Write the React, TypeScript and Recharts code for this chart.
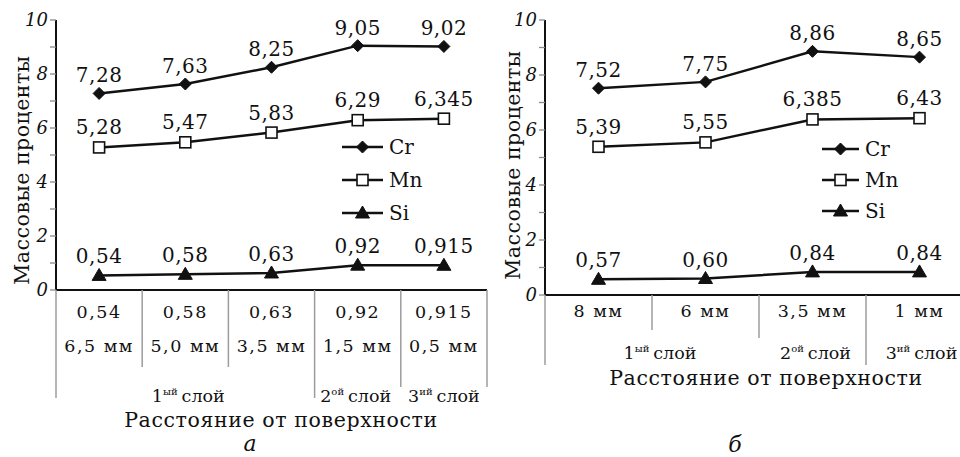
import React from 'react';
import { LineChart, Line, XAxis, YAxis, Legend, LabelList } from 'recharts';

const FONT = '"DejaVu Serif", "Liberation Serif", serif';
const INK = '#111111';
const SEP = '#9c9c9c';

// ---------- Panel а ----------
const distA = ['6,5 мм', '5,0 мм', '3,5 мм', '1,5 мм', '0,5 мм'];
const siRowA = ['0,54', '0,58', '0,63', '0,92', '0,915'];
const crA = [7.28, 7.63, 8.25, 9.05, 9.02];
const mnA = [5.28, 5.47, 5.83, 6.29, 6.345];
const siA = [0.54, 0.58, 0.63, 0.92, 0.915];
const layerNumA = ['1', '2', '3'];
const layerSupA = ['ый', 'ой', 'ий'];
const layerSpanA = [3, 1, 1];

// ---------- Panel б ----------
const distB = ['8 мм', '6 мм', '3,5 мм', '1 мм'];
const crB = [7.52, 7.75, 8.86, 8.65];
const mnB = [5.39, 5.55, 6.385, 6.43];
const siB = [0.57, 0.6, 0.84, 0.84];
const layerNumB = ['1', '2', '3'];
const layerSupB = ['ый', 'ой', 'ий'];
const layerSpanB = [2, 1, 1];

const yTicks = [0, 1, 2, 3, 4, 5, 6, 7, 8, 9, 10];
const seriesNames = ['Cr', 'Mn', 'Si'];
const yTitle = 'Массовые проценты';
const xTitle = 'Расстояние от поверхности';
const layerWord = 'слой';
const panelLetters = ['а', 'б'];

const fmt = (v: number) => {
  const s = String(v);
  const dec = s.includes('.') ? s.split('.')[1].length : 0;
  return v.toFixed(Math.max(2, dec)).replace('.', ',');
};

function Marker({ kind, cx, cy }: { kind: string; cx: number; cy: number }) {
  if (kind === 'Cr') {
    return <polygon points={`${cx},${cy - 6} ${cx + 6},${cy} ${cx},${cy + 6} ${cx - 6},${cy}`} fill={INK} stroke={INK} strokeWidth={1} />;
  }
  if (kind === 'Mn') {
    return <rect x={cx - 5.5} y={cy - 5.5} width={11} height={11} fill="#fff" stroke={INK} strokeWidth={1.6} />;
  }
  return <polygon points={`${cx},${cy - 7} ${cx + 7},${cy + 5} ${cx - 7},${cy + 5}`} fill={INK} stroke={INK} strokeWidth={1} />;
}

type PanelProps = {
  left: number;
  width: number;
  marginLeft: number;
  marginRight: number;
  yW: number;
  xH: number;
  dist: string[];
  valRow?: string[];
  cr: number[];
  mn: number[];
  si: number[];
  layerNum: string[];
  layerSup: string[];
  layerSpan: number[];
  layerDx: number[];
  sepLen: number[];
  rowOff: number[];
  layerOff: number;
  titleX: number;
  titleOff: number;
  letter: string;
  letterX: number;
  letterY: number;
  yTitleX: number;
  yTitleY: number;
  legendLeft: number;
  legendTop: number;
  legendRow: number;
  legendLine: number;
};

function Panel(p: PanelProps) {
  const H = 457;
  const data = p.dist.map((d, i) => ({
    name: d,
    row: p.valRow ? p.valRow[i] : undefined,
    Cr: p.cr[i],
    Mn: p.mn[i],
    Si: p.si[i],
  }));
  const n = data.length;
  const plotW = p.width - p.marginLeft - p.marginRight - p.yW;
  const bw = plotW / n;
  const starts: number[] = [];
  let acc = 0;
  p.layerSpan.forEach((s) => {
    starts.push(acc);
    acc += s;
  });

  const tick = (t: any) => {
    const { x, y, index } = t;
    const lx = x - bw / 2;
    const rows = p.valRow ? [p.valRow, p.dist] : [p.dist];
    const li = starts.indexOf(index);
    return (
      <g>
        <line x1={lx} x2={lx} y1={y} y2={y + p.sepLen[index]} stroke={SEP} strokeWidth={1.5} />
        {index === n - 1 && (
          <line x1={x + bw / 2} x2={x + bw / 2} y1={y} y2={y + p.sepLen[n]} stroke={SEP} strokeWidth={1.5} />
        )}
        {rows.map((r, ri) => (
          <text key={ri} x={x} y={y + p.rowOff[ri]} textAnchor="middle" fontFamily={FONT} fontSize={17.5} letterSpacing={1.5} fill={INK}>
            {r[index]}
          </text>
        ))}
        {li >= 0 && (
          <text x={lx + (p.layerSpan[li] * bw) / 2 + p.layerDx[li]} y={y + p.layerOff} textAnchor="middle" fontFamily={FONT} fontSize={17.5} fill={INK}>
            <tspan>{p.layerNum[li]}</tspan>
            <tspan fontSize={10} dy={-7}>{p.layerSup[li]}</tspan>
            <tspan dy={7} dx={4}>{layerWord}</tspan>
          </text>
        )}
        {index === 0 && (
          <g>
            <text x={p.titleX} y={y + p.titleOff} textAnchor="middle" fontFamily={FONT} fontSize={20.5} letterSpacing={0.6} fill={INK}>
              {xTitle}
            </text>
            <text x={p.letterX} y={p.letterY} textAnchor="middle" fontFamily={FONT} fontStyle="italic" fontSize={22} fill={INK}>
              {p.letter}
            </text>
          </g>
        )}
      </g>
    );
  };

  const labelFor = (key: string, off: number) => (lp: any) => {
    const { x, y, value } = lp;
    return (
      <text x={x} y={y - off} textAnchor="middle" fontFamily={FONT} fontSize={20} letterSpacing={0.5} fill={INK}>
        {fmt(Number(value))}
      </text>
    );
  };

  const dotFor = (key: string) => (dp: any) => <Marker key={`${key}-${dp.index}`} kind={key} cx={dp.cx} cy={dp.cy} />;

  const legendContent = (lp: any) => {
    const payload = lp.payload || [];
    return (
      <div style={{ fontFamily: FONT, fontSize: 20, color: INK }}>
        {payload.map((e: any) => {
          const k = String(e.dataKey);
          const w = p.legendLine;
          return (
            <div key={k} style={{ display: 'flex', alignItems: 'center', height: p.legendRow }}>
              <svg width={w} height={18} style={{ display: 'block' }}>
                <line x1={0} x2={w} y1={9} y2={9} stroke={INK} strokeWidth={2.5} />
                <Marker kind={k} cx={w / 2} cy={9} />
              </svg>
              <span style={{ marginLeft: 6, lineHeight: '20px' }}>{e.value}</span>
            </div>
          );
        })}
      </div>
    );
  };

  return (
    <div style={{ position: 'absolute', left: p.left, top: 0, width: p.width, height: H }}>
      <LineChart
        width={p.width}
        height={H}
        data={data}
        margin={{ top: 20, right: p.marginRight, left: p.marginLeft, bottom: 0 }}
      >
        <XAxis
          dataKey="name"
          scale="band"
          height={p.xH}
          interval={0}
          tickSize={0}
          tickMargin={0}
          tickLine={false}
          axisLine={{ stroke: INK, strokeWidth: 2 }}
          tick={tick}
        />
        <XAxis
          xAxisId="top"
          dataKey="name"
          scale="band"
          orientation="top"
          height={0}
          tick={false}
          tickLine={false}
          axisLine={{ stroke: INK, strokeWidth: 2 }}
        />
        <YAxis
          width={p.yW}
          domain={[0, 10]}
          ticks={yTicks}
          interval={0}
          tickSize={6}
          tickMargin={2}
          tickLine={{ stroke: '#8a8a8a', strokeWidth: 1.3 }}
          axisLine={{ stroke: INK, strokeWidth: 2 }}
          tickFormatter={(v: number) => (v % 2 === 0 ? String(v) : '')}
          tick={{ fontFamily: FONT, fontStyle: 'italic', fontSize: 18, fill: INK }}
          label={() => (
            <text
              transform={`translate(${p.yTitleX},${p.yTitleY}) rotate(-90)`}
              textAnchor="middle"
              fontFamily={FONT}
              fontSize={20.5}
              letterSpacing={0.5}
              fill={INK}
            >
              {yTitle}
            </text>
          )}
        />
        <YAxis
          yAxisId="r"
          orientation="right"
          width={0}
          domain={[0, 10]}
          tick={false}
          tickLine={false}
          axisLine={{ stroke: INK, strokeWidth: 2 }}
        />
        <Legend
          layout="vertical"
          align="center"
          verticalAlign="middle"
          content={legendContent}
          wrapperStyle={{ left: p.legendLeft, top: p.legendTop, width: 100, height: 3 * p.legendRow }}
        />
        {seriesNames.map((k, i) => (
          <Line
            key={k}
            dataKey={k}
            name={k}
            stroke={INK}
            strokeWidth={2.5}
            isAnimationActive={false}
            dot={dotFor(k)}
            activeDot={false}
            legendType="line"
          >
            <LabelList dataKey={k} content={labelFor(k, [11, 13, 12][i])} />
          </Line>
        ))}
      </LineChart>
    </div>
  );
}

export default function App() {
  return (
    <div style={{ position: 'absolute', left: 0, top: 0, width: 960, height: 457, overflow: 'hidden', background: '#fff' }}>
      <Panel
        left={0}
        width={490}
        marginLeft={16}
        marginRight={3}
        yW={40}
        xH={167}
        dist={distA}
        valRow={siRowA}
        cr={crA}
        mn={mnA}
        si={siA}
        layerNum={layerNumA}
        layerSup={layerSupA}
        layerSpan={layerSpanA}
        layerDx={[3, -2, 0]}
        sepLen={[108, 77, 77, 108, 97, 97]}
        rowOff={[28, 62]}
        layerOff={112}
        titleX={281}
        titleOff={137}
        letter={panelLetters[0]}
        letterX={250}
        letterY={451}
        yTitleX={29}
        yTitleY={170}
        legendLeft={342}
        legendTop={130}
        legendRow={33}
        legendLine={41}
      />
      <Panel
        left={490}
        width={490}
        marginLeft={15}
        marginRight={7}
        yW={40}
        xH={162}
        dist={distB}
        cr={crB}
        mn={mnB}
        si={siB}
        layerNum={layerNumB}
        layerSup={layerSupB}
        layerSpan={layerSpanB}
        layerDx={[8, 3, 2]}
        sepLen={[70, 35, 43, 70, 70]}
        rowOff={[22]}
        layerOff={64}
        titleX={276}
        titleOff={90}
        letter={panelLetters[1]}
        letterX={245}
        letterY={452}
        yTitleX={30}
        yTitleY={165}
        legendLeft={332}
        legendTop={133}
        legendRow={31}
        legendLine={37}
      />
    </div>
  );
}
